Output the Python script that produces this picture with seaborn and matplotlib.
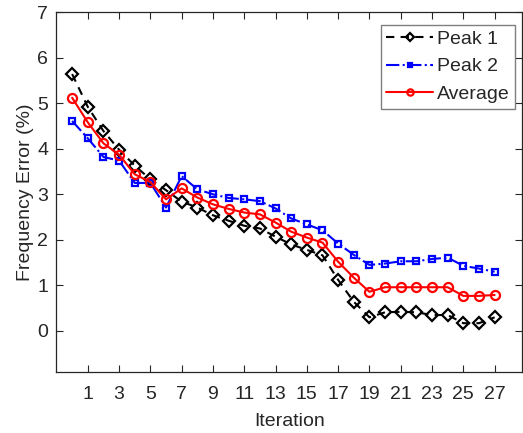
import matplotlib
matplotlib.use("Agg")
import matplotlib.pyplot as plt
import seaborn as sns
import numpy as np

iteration = list(range(28))
peak1 = [5.64, 4.92, 4.39, 3.98, 3.63, 3.33, 3.09, 2.84, 2.71, 2.54, 2.42, 2.31, 2.25, 2.07,
         1.90, 1.78, 1.66, 1.12, 0.64, 0.30, 0.41, 0.42, 0.41, 0.35, 0.35, 0.17, 0.17, 0.30]
peak2 = [4.61, 4.23, 3.82, 3.74, 3.25, 3.25, 2.71, 3.40, 3.11, 3.00, 2.92, 2.89, 2.85, 2.69,
         2.47, 2.34, 2.21, 1.92, 1.67, 1.45, 1.48, 1.53, 1.53, 1.58, 1.61, 1.43, 1.37, 1.30]
average = [5.12, 4.58, 4.12, 3.87, 3.44, 3.27, 2.89, 3.13, 2.93, 2.78, 2.68, 2.60, 2.56, 2.38,
           2.18, 2.05, 1.94, 1.52, 1.17, 0.86, 0.96, 0.96, 0.96, 0.96, 0.96, 0.77, 0.77, 0.79]
xticks = list(range(1, 28, 2))
yticks = list(range(0, 8))

sns.set_style("ticks")
plt.rcParams['font.family'] = ['Liberation Sans', 'DejaVu Sans']

fig = plt.figure(figsize=(5.23, 4.33), dpi=100)
ax = fig.add_axes([0.108, 0.141, 0.891, 0.831])

sns.lineplot(x=iteration, y=peak1, ax=ax, color='black', linestyle=(0, (4, 3)), linewidth=1.5,
             marker='D', markersize=5.8, markerfacecolor='none', markeredgecolor='black',
             markeredgewidth=1.6, label='Peak 1')
sns.lineplot(x=iteration, y=peak2, ax=ax, color='blue', linestyle='-.', linewidth=1.5,
             marker='s', markersize=5, markerfacecolor='none', markeredgecolor='blue',
             markeredgewidth=1.6, label='Peak 2')
sns.lineplot(x=iteration, y=average, ax=ax, color='red', linestyle='-', linewidth=1.5,
             marker='o', markersize=6.5, markerfacecolor='none', markeredgecolor='red',
             markeredgewidth=1.6, label='Average')

ax.set_xlim(-1, 28.78)
ax.set_ylim(-0.9, 7)
ax.set_xticks(xticks)
ax.set_yticks(yticks)
ax.tick_params(direction='in', top=True, right=True, length=5, width=0.8,
               labelsize=14, colors='#262626')
ax.tick_params(axis='x', pad=10)
ax.tick_params(axis='y', pad=6)
for s in ax.spines.values():
    s.set_color('#262626')
    s.set_linewidth(0.9)
ax.set_xlabel('Iteration', fontsize=14, color='#262626', labelpad=7.5)
ax.set_ylabel('Frequency Error (%)', fontsize=14, color='#262626', labelpad=2)

leg = ax.legend(loc='upper right', bbox_to_anchor=(0.985, 0.965), fontsize=14,
                fancybox=False, framealpha=1, edgecolor='#7f7f7f', handlelength=2.4,
                handletextpad=0.2, borderpad=0.3, labelspacing=0.5, borderaxespad=0,
                markerscale=0.7)
leg.get_frame().set_linewidth(1.0)

fig.savefig('out.png', dpi=100)
